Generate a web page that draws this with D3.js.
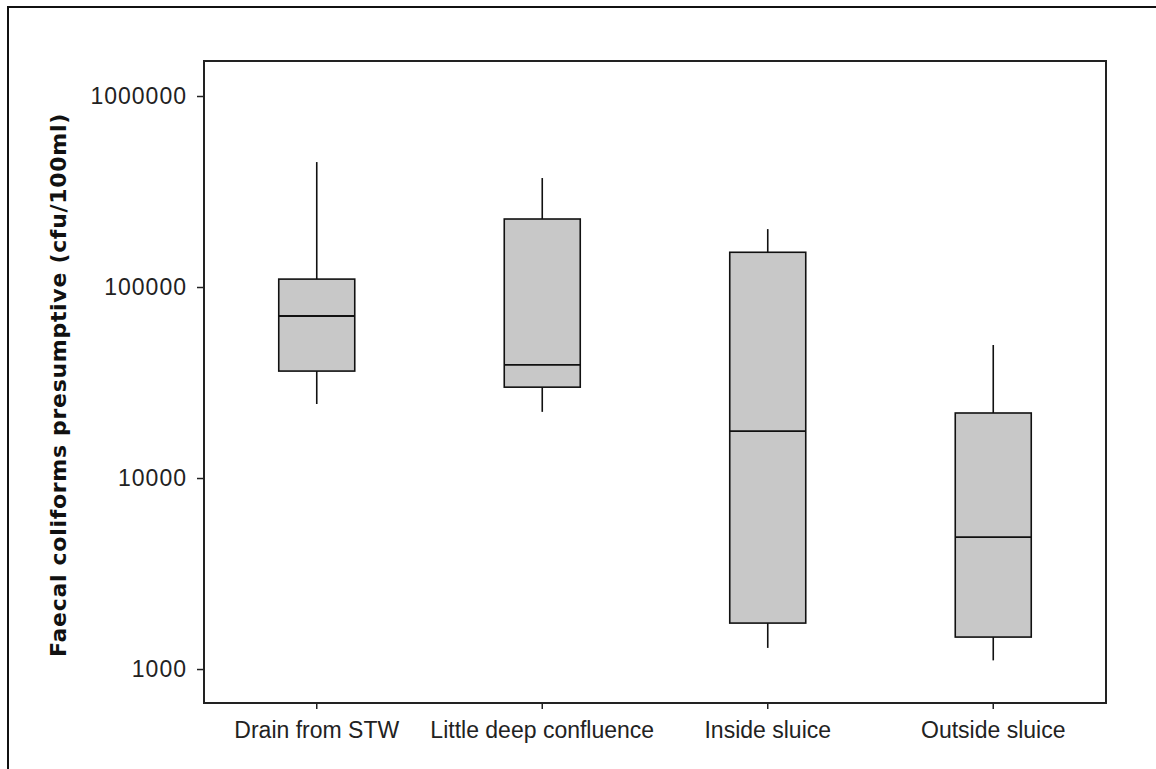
<!DOCTYPE html>
<html>
<head>
<meta charset="utf-8">
<script src="https://cdn.jsdelivr.net/npm/d3@7"></script>
<style>
  html, body { margin: 0; padding: 0; background: #fff; }
  svg { display: block; }
</style>
</head>
<body>
<svg id="chart" width="1156" height="769"></svg>
<script>
// Sampling sites and box-plot statistics (cfu/100ml)
const sites = ["Drain from STW", "Little deep confluence", "Inside sluice", "Outside sluice"];
const whiskerHigh = [451000, 372000, 201000, 49700];
const q3Values    = [110000, 227000, 152000, 21900];
const medians     = [70500, 39100, 17600, 4910];
const q1Values    = [36300, 29900, 1740, 1470];
const whiskerLow  = [24400, 22200, 1290, 1110];
const yTicks = [1000, 10000, 100000, 1000000];
const yTitle = "Faecal coliforms presumptive (cfu/100ml)";

const boxes = sites.map((s, i) => ({
  site: s, hi: whiskerHigh[i], q3: q3Values[i], med: medians[i], q1: q1Values[i], lo: whiskerLow[i]
}));

const svg = d3.select("#chart");
const plot = { left: 204, top: 61, right: 1106, bottom: 703 };

// outer frame
svg.append("rect")
  .attr("x", 8).attr("y", 7).attr("width", 1170).attr("height", 790)
  .attr("fill", "#fff").attr("stroke", "#111").attr("stroke-width", 2);

const x = d3.scaleBand().domain(sites).range([plot.left, plot.right]).padding(0);
const y = d3.scaleLog().domain([664, 1525000]).range([plot.bottom, plot.top]);
const boxW = 76;

// axes
const yAxis = svg.append("g")
  .attr("transform", `translate(${plot.left},0)`)
  .call(d3.axisLeft(y).tickValues(yTicks).tickFormat(d3.format("d")).tickSize(7).tickPadding(10));
const xAxis = svg.append("g")
  .attr("transform", `translate(0,${plot.bottom})`)
  .call(d3.axisBottom(x).tickSize(6).tickPadding(13));

[yAxis, xAxis].forEach(g => {
  g.select(".domain").remove();
  g.selectAll(".tick line").attr("stroke", "#222").attr("stroke-width", 1.5);
  g.selectAll(".tick text")
    .attr("font-family", "'Liberation Sans', Arial, sans-serif")
    .attr("font-size", 23)
    .attr("fill", "#222");
});
yAxis.selectAll(".tick text").attr("letter-spacing", 1);

// plot frame
svg.append("rect")
  .attr("x", plot.left).attr("y", plot.top)
  .attr("width", plot.right - plot.left).attr("height", plot.bottom - plot.top)
  .attr("fill", "none").attr("stroke", "#222").attr("stroke-width", 2);

// box plots
const g = svg.append("g").selectAll("g").data(boxes).join("g")
  .attr("transform", d => `translate(${x(d.site) + x.bandwidth() / 2},0)`);

g.append("line").attr("x1", 0).attr("x2", 0)
  .attr("y1", d => y(d.hi)).attr("y2", d => y(d.q3))
  .attr("stroke", "#111").attr("stroke-width", 1.6);
g.append("line").attr("x1", 0).attr("x2", 0)
  .attr("y1", d => y(d.q1)).attr("y2", d => y(d.lo))
  .attr("stroke", "#111").attr("stroke-width", 1.6);
g.append("rect")
  .attr("x", -boxW / 2).attr("width", boxW)
  .attr("y", d => y(d.q3)).attr("height", d => y(d.q1) - y(d.q3))
  .attr("fill", "#c8c8c8").attr("stroke", "#111").attr("stroke-width", 1.6);
g.append("line").attr("x1", -boxW / 2).attr("x2", boxW / 2)
  .attr("y1", d => y(d.med)).attr("y2", d => y(d.med))
  .attr("stroke", "#111").attr("stroke-width", 1.8);

// y axis title
svg.append("text")
  .attr("transform", `translate(66,${(plot.top + plot.bottom) / 2 + 3}) rotate(-90)`)
  .attr("text-anchor", "middle")
  .attr("font-family", "'DejaVu Sans', Verdana, sans-serif")
  .attr("font-weight", "bold")
  .attr("font-size", 22)
  .attr("letter-spacing", 0.7)
  .attr("fill", "#111")
  .text(yTitle);
</script>
</body>
</html>
